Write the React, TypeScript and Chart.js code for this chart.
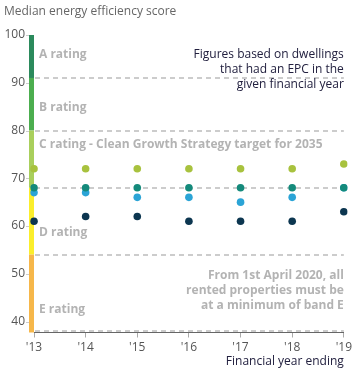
import React, { useEffect, useRef } from "react";
import { Chart, registerables } from "chart.js";

Chart.register(...registerables);

const years = ["'13", "'14", "'15", "'16", "'17", "'18", "'19"];
const limeSeries = [72, 72, 72, 72, 72, 72, 73];
const tealSeries = [68, 68, 68, 68, 68, 68, 68];
const blueSeries = [67, 67, 66, 66, 65, 66, 68];
const navySeries = [61, 62, 62, 61, 61, 61, 63];

const yTicks = [40, 50, 60, 70, 80, 90, 100];
const bandEdges = [100, 91, 80, 68, 54, 37.7];
const bandColors = ["#2b8a5c", "#4cae4f", "#a9cf5c", "#fbee2c", "#f6b74a"];
const dashedLevels = [91, 80, 68, 54, 38];
const ratingLabels = ["A rating", "B rating", "C rating - Clean Growth Strategy target for 2035", "D rating", "E rating"];
const ratingLabelValues = [95.8, 84.7, 77, 58.6, 42.6];
const noteTop = ["Figures based on dwellings", "that had an EPC in the", "given financial year"];
const noteBottom = ["From 1st April 2020, all", "rented properties must be", "at a minimum of band E"];

const FONT = "'Open Sans', sans-serif";

const decor = {
  id: "decor",
  beforeDatasetsDraw(chart: any) {
    const { ctx, chartArea, scales } = chart;
    const y = scales.y;
    ctx.save();
    // small y tick marks
    ctx.strokeStyle = "#cccccc";
    ctx.lineWidth = 1;
    for (const v of yTicks) {
      const py = Math.round(y.getPixelForValue(v)) + 0.5;
      ctx.beginPath();
      ctx.moveTo(chartArea.left - 8, py);
      ctx.lineTo(chartArea.left - 5, py);
      ctx.stroke();
    }
    // colour band bar
    for (let i = 0; i < bandColors.length; i++) {
      const y0 = y.getPixelForValue(bandEdges[i]);
      const y1 = y.getPixelForValue(bandEdges[i + 1]);
      ctx.fillStyle = bandColors[i];
      ctx.fillRect(chartArea.left - 5, y0, 5, y1 - y0);
    }
    // dashed lines
    ctx.strokeStyle = "#cccccc";
    ctx.lineWidth = 2;
    ctx.setLineDash([5, 4]);
    for (const v of dashedLevels) {
      const py = Math.round(y.getPixelForValue(v));
      ctx.beginPath();
      ctx.moveTo(chartArea.left + 1, py);
      ctx.lineTo(chartArea.right, py);
      ctx.stroke();
    }
    ctx.setLineDash([]);
    // rating labels
    ctx.fillStyle = "#b3b3b3";
    ctx.font = `bold 12px ${FONT}`;
    ctx.textAlign = "left";
    ctx.textBaseline = "middle";
    ratingLabels.forEach((t, i) => {
      ctx.fillText(t, chartArea.left + 5, y.getPixelForValue(ratingLabelValues[i]));
    });
    // bottom note
    ctx.textAlign = "right";
    noteBottom.forEach((t, i) => {
      ctx.fillText(t, chartArea.right, 276 + i * 15);
    });
    // top note
    ctx.fillStyle = "#22203f";
    ctx.font = `12px ${FONT}`;
    noteTop.forEach((t, i) => {
      ctx.fillText(t, chartArea.right, 55 + i * 15);
    });
    ctx.restore();
  },
  afterDraw(chart: any) {
    const { ctx, chartArea } = chart;
    ctx.save();
    ctx.font = `12px ${FONT}`;
    ctx.textBaseline = "middle";
    ctx.fillStyle = "#666666";
    ctx.textAlign = "left";
    ctx.fillText("Median energy efficiency score", 4, 12);
    ctx.fillStyle = "#22203f";
    ctx.textAlign = "right";
    ctx.fillText("Financial year ending", chartArea.right, 362);
    ctx.restore();
  },
};

export default function App() {
  const ref = useRef<HTMLCanvasElement>(null);
  useEffect(() => {
    if (!ref.current) return;
    const mk = (label: string, data: number[], color: string) => ({
      label,
      data,
      showLine: false,
      pointRadius: 3.8,
      pointHoverRadius: 3.8,
      pointBackgroundColor: color,
      pointBorderWidth: 0,
      borderColor: color,
      backgroundColor: color,
    });
    const chart = new Chart(ref.current, {
      type: "line",
      data: {
        labels: years,
        datasets: [
          mk("Teal", tealSeries, "#148a7b"),
          mk("Blue", blueSeries, "#2ba4d6"),
          mk("Lime", limeSeries, "#a8c23e"),
          mk("Navy", navySeries, "#0c3650"),
        ],
      },
      options: {
        animation: false,
        responsive: false,
        events: [],
        layout: { padding: { top: 35, right: 10, left: 0, bottom: 0 } },
        plugins: { legend: { display: false }, tooltip: { enabled: false } },
        scales: {
          x: {
            offset: false,
            afterFit: (a: any) => {
              a.height = 38.5;
            },
            grid: { drawOnChartArea: false, drawTicks: true, tickLength: 5, color: "#aaaaaa" },
            border: { display: true, color: "#666666", width: 1 },
            ticks: { color: "#555555", font: { size: 12, family: FONT }, padding: 3, maxRotation: 0 },
          },
          y: {
            min: 37.7,
            max: 100,
            afterFit: (a: any) => {
              a.width = 34;
            },
            afterBuildTicks: (a: any) => {
              a.ticks = yTicks.map((v) => ({ value: v }));
            },
            grid: { display: false, drawTicks: false },
            border: { display: false },
            ticks: { color: "#555555", font: { size: 12, family: FONT }, padding: 9 },
          },
        },
      },
      plugins: [decor],
    });
    return () => chart.destroy();
  }, []);
  return (
    <div style={{ position: "absolute", left: 0, top: 0, width: 355, height: 371, background: "#fff" }}>
      <canvas ref={ref} width={355} height={371} style={{ width: 355, height: 371 }} />
    </div>
  );
}
